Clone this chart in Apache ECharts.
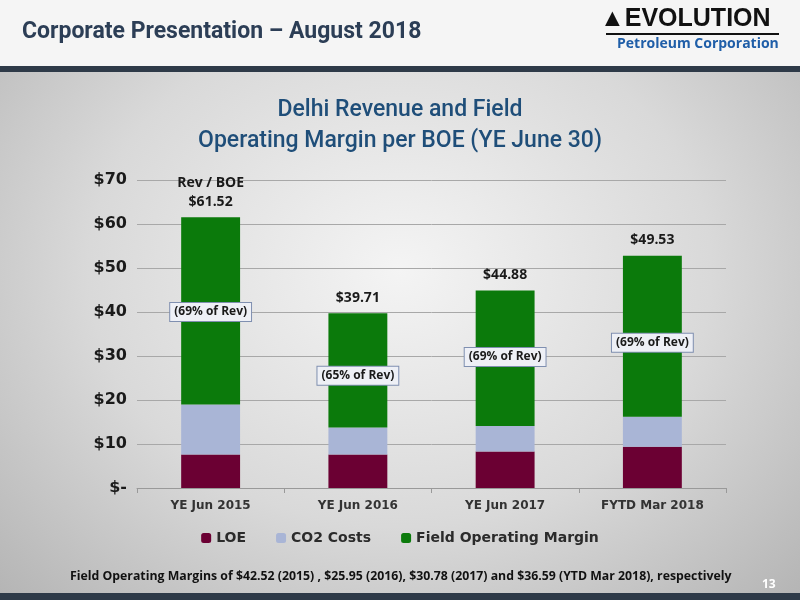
<!DOCTYPE html>
<html>
<head>
<meta charset="UTF-8">
<script src="https://cdn.jsdelivr.net/npm/echarts@6/dist/echarts.min.js"></script>
<style>
html,body{margin:0;padding:0;}
body{width:800px;height:600px;background:radial-gradient(ellipse at 50% 45%, #f4f4f4 0%, #d9d9d9 55%, #b4b4b4 100%);}
#chart{width:800px;height:600px;}
</style>
</head>
<body>
<div id="chart"></div>
<script>
var categories = ['YE Jun 2015', 'YE Jun 2016', 'YE Jun 2017', 'FYTD Mar 2018'];
var loe = [7.6, 7.6, 8.3, 9.4];
var co2 = [11.4, 6.16, 5.8, 6.8];
var margin = [42.52, 25.95, 30.78, 36.59];
var totalLabels = ['$61.52', '$39.71', '$44.88', '$49.53'];
var pctLabels = ['(69% of Rev)', '(65% of Rev)', '(69% of Rev)', '(69% of Rev)'];
var pctPos = [40, 25.5, 29.8, 33];

var chart = echarts.init(document.getElementById('chart'));

var topPoints = categories.map(function (c, i) {
    return {
        coord: [c, loe[i] + co2[i] + margin[i]],
        symbol: 'rect', symbolSize: 0,
        label: {
            show: true, position: 'top', distance: 6,
            formatter: i == 0 ? 'Rev / BOE\n' + totalLabels[i] : totalLabels[i],
            fontSize: 14, fontWeight: 'bold', color: '#1a1a1a', lineHeight: 19,
            fontFamily: 'Open Sans'
        }
    };
});
var pctPoints = categories.map(function (c, i) {
    return {
        coord: [c, pctPos[i]],
        symbol: 'rect', symbolSize: 0,
        label: {
            show: true, position: 'inside', formatter: pctLabels[i],
            fontSize: 12, fontWeight: 'bold', color: '#1a1a1a',
            backgroundColor: '#eef0f6', borderColor: '#7f8fb0', borderWidth: 1,
            padding: [3, 4], fontFamily: 'Open Sans'
        }
    };
});

chart.setOption({
    backgroundColor: 'transparent',
    graphic: [
        {type: 'rect', shape: {x: 0, y: 0, width: 800, height: 66}, style: {fill: '#f5f5f5'}},
        {type: 'rect', shape: {x: 0, y: 66, width: 800, height: 6}, style: {fill: '#2e3a48'}},
        {type: 'rect', shape: {x: 0, y: 593, width: 800, height: 7}, style: {fill: '#2e3a48'}},
        {type: 'text', left: 22, top: 21, style: {text: 'Corporate Presentation \u2013 August 2018', fontSize: 23, fontWeight: 'bold', fill: '#2c3e56', fontFamily: 'Roboto'}},
        {type: 'text', left: 600, top: 7, style: {text: '\u25B2EVOLUTION', fontSize: 25, fontWeight: 'bold', fill: '#111', fontFamily: 'Liberation Sans'}},
        {type: 'rect', shape: {x: 606, y: 33, width: 173, height: 2}, style: {fill: '#111'}},
        {type: 'text', left: 617, top: 37, style: {text: 'Petroleum Corporation', fontSize: 14, fontWeight: 'bold', fill: '#1f5ea8', fontFamily: 'Open Sans'}},
        {type: 'text', left: 70, top: 570, style: {text: 'Field Operating Margins of $42.52 (2015) , $25.95 (2016), $30.78 (2017) and $36.59 (YTD Mar 2018), respectively', fontSize: 12.3, fontWeight: 'bold', fill: '#111', fontFamily: 'Open Sans'}},
        {type: 'text', left: 762, top: 579, style: {text: '13', fontSize: 12, fontWeight: 'bold', fill: '#fff', fontFamily: 'Open Sans'}}
    ],
    title: {
        text: 'Delhi Revenue and Field\nOperating Margin per BOE (YE June 30)',
        left: 'center', top: 90,
        textStyle: {fontSize: 23, fontWeight: 500, color: '#1f4e79', lineHeight: 31, fontFamily: 'Roboto'}
    },
    legend: {
        bottom: 50, itemWidth: 10, itemHeight: 10, itemGap: 30,
        textStyle: {fontSize: 14, fontWeight: 'bold', color: '#2b2b2b', fontFamily: 'DejaVu Sans'}
    },
    grid: {left: 137, right: 74, top: 180, bottom: 112},
    xAxis: {
        type: 'category', data: categories,
        axisLine: {lineStyle: {color: '#999'}},
        axisTick: {show: true, lineStyle: {color: '#999'}},
        axisLabel: {interval: 0, fontSize: 12, fontWeight: 'bold', color: '#333', margin: 12, fontFamily: 'DejaVu Sans'}
    },
    yAxis: {
        type: 'value', min: 0, max: 70, interval: 10,
        axisLabel: {
            fontSize: 16, fontWeight: 'bold', color: '#1a1a1a', margin: 10, fontFamily: 'DejaVu Sans',
            formatter: function (v) { return v == 0 ? '$-' : '$' + v; }
        },
        splitLine: {lineStyle: {color: '#a8a8a8'}}
    },
    series: [
        {name: 'LOE', type: 'bar', stack: 'a', data: loe, barWidth: '40%', itemStyle: {color: '#6b0033'}},
        {name: 'CO2 Costs', type: 'bar', stack: 'a', data: co2, itemStyle: {color: '#a9b5d6'}},
        {name: 'Field Operating Margin', type: 'bar', stack: 'a', data: margin, itemStyle: {color: '#0b7a0b'},
         markPoint: {data: topPoints.concat(pctPoints), animation: false}}
    ],
    animation: false
});
</script>
</body>
</html>
